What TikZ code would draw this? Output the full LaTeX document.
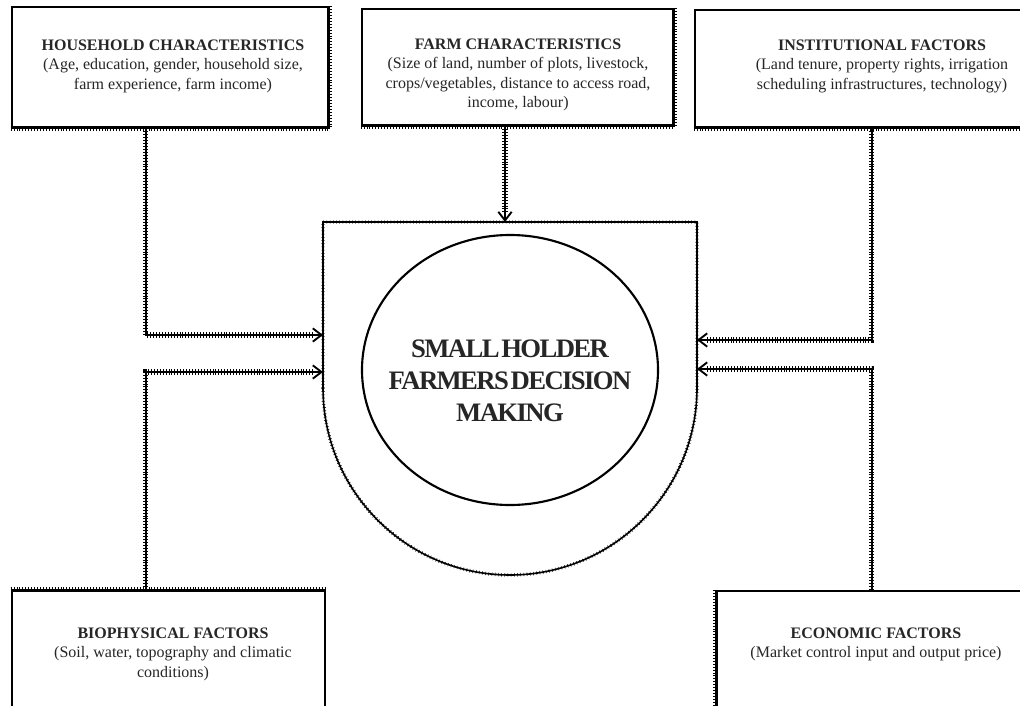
\documentclass[tikz,border=0pt]{standalone}
\usepackage{fontspec}
\setmainfont{Liberation Serif}
\newfontfamily\bigfont[LetterSpace=-6,WordSpace=0.35]{Liberation Serif}
\usetikzlibrary{arrows.meta,shapes.geometric}
\begin{document}
\begin{tikzpicture}[x=0.75pt,y=-0.75pt,
  ticks/.style={line width=1.4pt, postaction={draw,-,line width=3.8pt,dash pattern=on 0.6pt off 1.6pt,shorten >=#1}},
  ticks/.default=0pt,
  conn/.style={ticks=7pt,-{Straight Barb[length=6.5pt,width=10pt,line width=1.4pt]}},
  frame/.style={draw,line width=2pt,inner sep=0pt},
  label/.style={align=center,text=black!85,font=\fontsize{12}{14.6}\selectfont},
  big/.style={align=center,text=black!85,font=\bigfont\fontsize{20}{24}\selectfont\bfseries}
]
\useasboundingbox (0,0) rectangle (1020,706);
\clip (0,0) rectangle (1020,706);
\fill[white] (0,0) rectangle (1020,706);

% boxes
\node[frame,minimum width=237pt,minimum height=90pt] (hh) at (170,67) {};
\node[frame,minimum width=233.25pt,minimum height=87pt] (farm) at (517.5,67) {};
\node[frame,minimum width=258.75pt,minimum height=87.75pt] (inst) at (867.5,68.5) {};
\node[frame,minimum width=234.75pt,minimum height=126.75pt] (bio) at (168.5,675.5) {};
\node[frame,minimum width=242.25pt,minimum height=126.75pt] (econ) at (878.5,675.5) {};

% tick texture on lower/right edges
\draw[ticks] (hh.south west) -- (hh.south east) -- (hh.north east);
\draw[ticks] (farm.south west) -- (farm.south east) -- (farm.north east);
\draw[ticks] (inst.south west) -- (inst.south east);
\draw[ticks] (bio.north west) -- (bio.north east);
\draw[ticks] (econ.south west) -- (econ.north west);

% texts
\node[label] (hht) at (173,66) {\textbf{HOUSEHOLD CHARACTERISTICS}\\(Age, education, gender, household size,\\farm experience, farm income)};
\node[label] (farmt) at (518,75) {\textbf{FARM CHARACTERISTICS}\\(Size of land, number of plots, livestock,\\crops/vegetables, distance to access road,\\income, labour)};
\node[label] (instt) at (882,66) {\textbf{INSTITUTIONAL FACTORS}\\(Land tenure, property rights, irrigation\\scheduling infrastructures, technology)};
\node[label] (biot) at (173,654) {\textbf{BIOPHYSICAL FACTORS}\\(Soil, water, topography and climatic\\conditions)};
\node[label] (econt) at (876,644.5) {\textbf{ECONOMIC FACTORS}\\(Market control input and output price)};

% central U shape
\draw[line width=1.2pt,postaction={draw,line width=2.6pt,dash pattern=on 0.4pt off 2pt}]
  (323,388) -- (323,222) -- (697,222) -- (697,388) arc[start angle=0,end angle=-180,radius=140.25pt] -- cycle;
\node[draw,ellipse,line width=1.6pt,minimum width=222pt,minimum height=202.5pt] (dm) at (510,370) {};
\node[big] (dmt) at (510,381) {SMALL HOLDER\\FARMERS DECISION\\MAKING};

% arrow end points
\coordinate (inL1) at (323,335);
\coordinate (inL2) at (323,372);
\coordinate (inR1) at (697,340);
\coordinate (inR2) at (697,369);
\coordinate (inT) at (505,222);

% connectors
\draw[conn] ([xshift=101.25pt]hh.south west) |- (inL1);
\draw[conn] ([xshift=101.25pt]bio.north west) |- (inL2);
\draw[conn] ([xshift=133.5pt]inst.south west) |- (inR1);
\draw[conn] ([xshift=117pt]econ.north west) |- (inR2);
\draw[conn] (inT |- farm.south) -- (inT);
\end{tikzpicture}
\end{document}
